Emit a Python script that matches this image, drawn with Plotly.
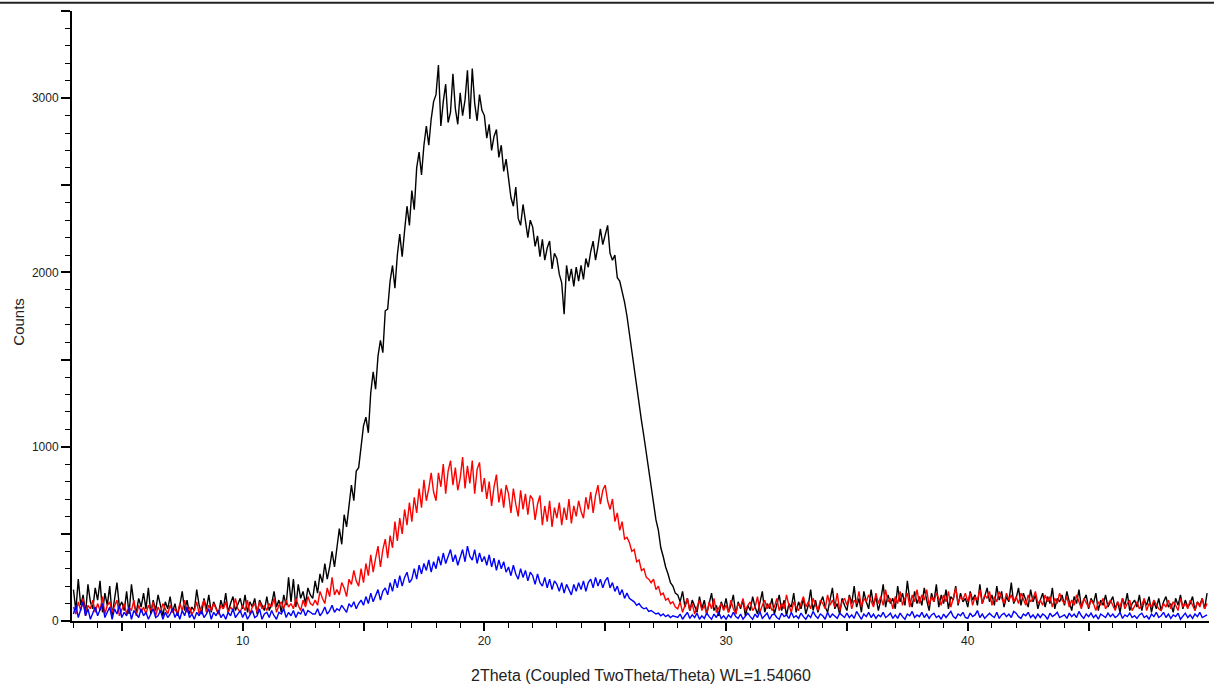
import numpy as np
import plotly.graph_objs as go

# scan grid: 2theta from 3.0 in steps of 0.1 (one row below = one degree)
start_angle = 3.0
step_size = 0.1

black_counts = [
    180, 60, 240, 90, 150, 40, 210, 110, 70, 190,
    120, 230, 50, 160, 90, 200, 30, 140, 220, 80,
    110, 60, 170, 40, 210, 100, 50, 130, 80, 160,
    70, 190, 40, 120, 60, 150, 90, 30, 110, 70,
    140, 50, 100, 30, 90, 170, 60, 120, 40, 80,
    60, 180, 90, 40, 130, 70, 150, 50, 110, 80,
    40, 120, 70, 160, 50, 100, 140, 60, 90, 130,
    70, 150, 50, 110, 80, 130, 40, 120, 90, 60,
    140, 60, 100, 170, 80, 120, 50, 150, 90, 250,
    110, 240, 80, 210, 130, 170, 100, 190, 150, 130,
    230, 160, 270, 220, 330, 240, 310, 400, 310, 430,
    530, 440, 610, 540, 680, 780, 690, 860, 880, 990,
    1120, 1170, 1080, 1310, 1430, 1330, 1520, 1610, 1540, 1780,
    1790, 1950, 2040, 1910, 2100, 2220, 2090, 2240, 2380, 2270,
    2470, 2360, 2600, 2690, 2560, 2730, 2840, 2730, 2880, 2980,
    3020, 3190, 2840, 2980, 3080, 2860, 2920, 3140, 2940, 2850,
    3030, 2900, 2990, 3160, 2880, 3170, 2970, 2870, 3020, 2930,
    2900, 2770, 2850, 2700, 2780, 2820, 2660, 2730, 2580, 2650,
    2550, 2430, 2380, 2490, 2310, 2270, 2390, 2290, 2200, 2300,
    2260, 2150, 2210, 2090, 2190, 2070, 2140, 2180, 2020, 2110,
    2080, 1990, 1940, 1760, 2040, 1950, 2020, 1920, 2030, 1950,
    2040, 1960, 2080, 2030, 2120, 2180, 2070, 2150, 2250, 2160,
    2220, 2270, 2110, 2070, 2100, 1970, 1950, 1890, 1830, 1750,
    1650, 1520, 1430, 1340, 1250, 1150, 1060, 960, 890, 770,
    690, 580, 520, 420, 370, 310, 270, 220, 200, 160,
    150, 110, 170, 80, 130, 60, 120, 90, 50, 140,
    70, 120, 40, 100, 160, 60, 90, 30, 110, 70,
    130, 50, 90, 150, 40, 110, 70, 120, 30, 90,
    60, 140, 80, 40, 110, 170, 50, 100, 70, 130,
    40, 90, 150, 60, 120, 30, 100, 80, 160, 50,
    110, 70, 130, 40, 90, 180, 60, 120, 50, 100,
    140, 80, 50, 120, 190, 70, 100, 40, 130, 90,
    60, 150, 100, 200, 80, 130, 50, 170, 110, 70,
    180, 90, 140, 60, 120, 210, 80, 150, 100, 130,
    70, 200, 110, 160, 90, 230, 120, 80, 170, 100,
    140, 90, 190, 120, 60, 160, 110, 210, 80, 150,
    100, 180, 70, 140, 120, 200, 90, 160, 110, 130,
    80, 170, 120, 150, 90, 210, 100, 140, 190, 110,
    150, 90, 200, 120, 170, 80, 140, 110, 220, 100,
    130, 190, 90, 160, 120, 80, 180, 110, 150, 70,
    120, 160, 80, 140, 100, 190, 70, 130, 110, 150,
    90, 170, 110, 60, 140, 100, 180, 80, 120, 150,
    70, 130, 100, 160, 60, 120, 90, 150, 80, 110,
    140, 70, 110, 50, 130, 90, 160, 60, 100, 120,
    80, 150, 60, 120, 90, 140, 50, 110, 70, 130,
    60, 110, 140, 80, 100, 50, 130, 90, 150, 70,
    120, 80, 100, 140, 60, 110, 90, 130, 70, 160,
]

red_counts = [
    80, 40, 110, 60, 130, 30, 90, 70, 120, 50,
    100, 60, 140, 40, 90, 110, 50, 80, 120, 30,
    70, 100, 40, 80, 60, 120, 30, 90, 50, 80,
    40, 90, 60, 110, 30, 80, 50, 100, 70, 40,
    90, 50, 70, 40, 100, 60, 120, 50, 80, 40,
    60, 110, 40, 80, 120, 50, 90, 60, 100, 70,
    40, 90, 70, 110, 50, 80, 60, 130, 70, 50,
    90, 60, 120, 40, 80, 100, 50, 110, 70, 90,
    60, 100, 80, 130, 50, 90, 110, 70, 120, 80,
    100, 70, 130, 90, 60, 120, 80, 140, 100, 90,
    120, 90, 170, 130, 100, 190, 140, 250, 150, 180,
    150, 220, 190, 140, 240, 210, 290, 230, 200, 300,
    220, 330, 260, 380, 280, 360, 430, 310, 410, 470,
    360, 490, 420, 570, 460, 590, 500, 640, 550, 680,
    570, 710, 620, 760, 650, 810, 690, 760, 850, 740,
    690, 850, 770, 900, 730, 860, 920, 780, 880, 750,
    820, 940, 760, 890, 790, 920, 730, 870, 910, 740,
    820, 700, 800, 660, 770, 840, 680, 760, 650, 780,
    730, 620, 760, 670, 600, 750, 640, 730, 610, 720,
    700, 580, 670, 720, 550, 660, 570, 690, 540, 650,
    590, 680, 550, 650, 580, 700, 560, 660, 600, 690,
    630, 590, 710, 640, 740, 620, 720, 780, 670, 750,
    780, 690, 640, 700, 570, 620, 520, 570, 470, 480,
    450, 400, 410, 340, 350, 290, 300, 250, 240, 220,
    240, 180, 200, 150, 160, 120, 130, 100, 110, 80,
    70, 110, 50, 90, 130, 60, 100, 40, 80, 120,
    60, 90, 40, 110, 70, 130, 50, 80, 100, 60,
    90, 50, 120, 70, 40, 100, 80, 130, 60, 90,
    110, 60, 80, 140, 50, 90, 120, 70, 100, 60,
    80, 130, 60, 100, 70, 150, 90, 50, 110, 80,
    60, 100, 140, 80, 110, 70, 130, 90, 60, 120,
    100, 70, 150, 90, 120, 80, 160, 60, 110, 130,
    90, 140, 70, 120, 100, 170, 80, 130, 110, 150,
    120, 80, 160, 100, 140, 90, 180, 110, 130, 70,
    140, 100, 170, 90, 130, 160, 80, 150, 110, 180,
    100, 150, 120, 180, 90, 140, 110, 160, 130, 90,
    150, 110, 170, 80, 130, 190, 100, 140, 120, 160,
    110, 160, 90, 140, 120, 180, 100, 150, 130, 170,
    90, 140, 110, 170, 130, 100, 160, 120, 150, 110,
    140, 100, 160, 120, 90, 150, 110, 130, 170, 100,
    120, 90, 150, 110, 140, 80, 130, 100, 160, 120,
    100, 140, 80, 120, 90, 150, 110, 70, 130, 100,
    80, 120, 100, 60, 110, 90, 130, 70, 100, 120,
    90, 60, 110, 80, 130, 70, 100, 120, 60, 90,
    110, 70, 90, 130, 60, 100, 80, 120, 90, 70,
    60, 100, 80, 120, 70, 110, 90, 60, 130, 80,
    100, 70, 120, 90, 60, 110, 80, 130, 70, 100,
]

blue_counts = [
    40, 90, 20, 60, 110, 30, 70, 10, 50, 80,
    30, 60, 100, 20, 50, 80, 10, 70, 40, 90,
    20, 50, 30, 80, 10, 60, 40, 20, 70, 30,
    50, 10, 40, 70, 20, 30, 60, 10, 50, 20,
    40, 70, 20, 50, 10, 60, 30, 80, 20, 40,
    10, 50, 30, 60, 20, 40, 70, 10, 50, 30,
    60, 20, 40, 10, 50, 30, 70, 20, 40, 60,
    20, 50, 10, 40, 60, 20, 30, 70, 10, 40,
    50, 20, 60, 30, 10, 50, 40, 70, 20, 50,
    30, 60, 20, 50, 40, 70, 30, 60, 50, 40,
    40, 70, 30, 50, 80, 40, 60, 90, 50, 70,
    60, 90, 70, 50, 100, 80, 110, 70, 100, 120,
    90, 140, 100, 160, 110, 150, 180, 120, 170, 190,
    150, 220, 170, 240, 190, 260, 200, 250, 280, 220,
    240, 300, 240, 320, 270, 330, 290, 350, 280, 340,
    300, 370, 320, 390, 330, 370, 410, 340, 380, 320,
    360, 410, 340, 430, 370, 350, 410, 330, 390, 340,
    370, 320, 380, 310, 360, 290, 350, 300, 340, 280,
    310, 260, 320, 270, 240, 300, 250, 290, 230, 280,
    260, 210, 270, 220, 200, 250, 190, 240, 180, 230,
    210, 170, 220, 160, 210, 180, 150, 210, 170, 220,
    180, 230, 170, 220, 240, 190, 250, 200, 240, 190,
    230, 250, 190, 220, 170, 200, 150, 180, 130, 160,
    130, 120, 110, 90, 100, 80, 70, 75, 55, 60,
    50, 40, 45, 30, 40, 25, 35, 20, 30, 25,
    20, 40, 10, 30, 50, 15, 35, 20, 45, 10,
    30, 15, 45, 25, 10, 40, 20, 50, 15, 30,
    10, 35, 20, 50, 25, 15, 40, 10, 30, 45,
    25, 10, 40, 20, 55, 15, 30, 45, 10, 35,
    40, 20, 10, 45, 25, 35, 15, 50, 20, 30,
    15, 45, 25, 10, 35, 20, 55, 30, 15, 40,
    30, 10, 50, 20, 40, 25, 15, 45, 30, 20,
    45, 20, 35, 15, 55, 30, 10, 40, 25, 50,
    20, 40, 15, 35, 25, 50, 20, 30, 45, 15,
    35, 15, 45, 25, 10, 40, 30, 55, 20, 35,
    25, 50, 20, 40, 15, 35, 45, 20, 30, 10,
    40, 20, 35, 55, 25, 15, 40, 30, 50, 20,
    15, 45, 25, 35, 60, 20, 40, 15, 30, 45,
    30, 20, 50, 15, 35, 45, 25, 40, 20, 55,
    45, 25, 15, 40, 30, 50, 20, 35, 15, 40,
    20, 40, 30, 10, 45, 25, 35, 50, 20, 30,
    35, 15, 45, 25, 40, 20, 55, 30, 15, 40,
    25, 45, 20, 35, 10, 40, 30, 20, 45, 25,
    40, 20, 30, 50, 15, 35, 25, 45, 20, 30,
    15, 35, 45, 20, 30, 10, 40, 25, 50, 20,
    30, 50, 20, 40, 15, 35, 25, 45, 10, 30,
    45, 20, 35, 15, 40, 25, 50, 20, 30, 35,
]

x_tick_vals = [5, 10, 15, 20, 25, 30, 35, 40, 45, 50]
x_tick_text = ['', '10', '', '20', '', '30', '', '40', '', '']
y_tick_vals = [0, 500, 1000, 1500, 2000, 2500, 3000, 3500]
y_tick_text = ['0', '', '1000', '', '2000', '', '3000', '']

two_theta = np.round(start_angle + step_size * np.arange(len(black_counts)), 1)

data = []
for counts, colour in [(black_counts, '#000000'),
                       (red_counts, '#ff0000'),
                       (blue_counts, '#0000ff')]:
    data.append(go.Scatter(
        x=two_theta,
        y=counts,
        mode='lines',
        line=dict(color=colour, width=1.4),
        hoverinfo='x+y',
    ))

font_family = 'Arial, Liberation Sans, sans-serif'
tick_font = dict(family=font_family, size=12, color='#222222')

layout = go.Layout(
    width=1214,
    height=688,
    margin=dict(l=72, r=5, t=11, b=67),
    paper_bgcolor='white',
    plot_bgcolor='white',
    showlegend=False,
    xaxis=dict(
        range=[2.94, 49.98],
        tickmode='array',
        tickvals=x_tick_vals,
        ticktext=x_tick_text,
        ticks='outside',
        ticklen=8,
        tickwidth=1.5,
        tickcolor='black',
        minor=dict(dtick=1, tick0=0, ticks='outside', ticklen=5, tickwidth=1.2, tickcolor='black'),
        showline=True,
        linecolor='black',
        linewidth=2,
        showgrid=False,
        zeroline=False,
        tickfont=tick_font,
    ),
    yaxis=dict(
        range=[0, 3500],
        tickmode='array',
        tickvals=y_tick_vals,
        ticktext=y_tick_text,
        ticks='outside',
        ticklen=9,
        tickwidth=1.5,
        tickcolor='black',
        minor=dict(dtick=100, tick0=0, ticks='outside', ticklen=5, tickwidth=1.2, tickcolor='black'),
        showline=True,
        linecolor='black',
        linewidth=2,
        showgrid=False,
        zeroline=False,
        tickfont=tick_font,
    ),
    annotations=[
        dict(text='2Theta (Coupled TwoTheta/Theta) WL=1.54060', xref='paper', yref='paper',
             x=0.5, y=-0.09, xanchor='center', yanchor='middle', showarrow=False,
             font=dict(family=font_family, size=16, color='#222222')),
        dict(text='Counts', xref='paper', yref='paper', textangle=-90,
             x=-0.047, y=0.49, xanchor='center', yanchor='middle', showarrow=False,
             font=dict(family=font_family, size=15, color='#222222')),
    ],
    shapes=[
        dict(type='line', xref='paper', yref='paper', x0=-0.064, x1=1.005, y0=1.0135, y1=1.0135,
             line=dict(color='#222222', width=2)),
    ],
)

fig = go.Figure(data=data, layout=layout)
# page body margin would shift the whole figure by 8px
fig.write_html("out.html", config={'displayModeBar': False},
               post_script="document.body.style.margin = '0';")
